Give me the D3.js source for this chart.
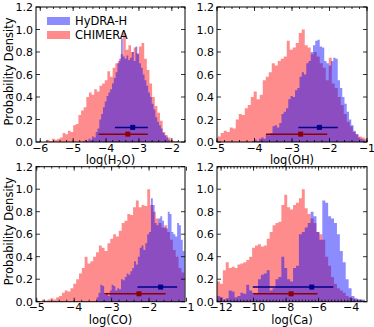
<!DOCTYPE html>
<html>
<head>
<meta charset="utf-8">
<script src="https://cdn.jsdelivr.net/npm/d3@7"></script>
<style>
  body { margin: 0; background: #fff; }
  text { font-family: "DejaVu Sans", sans-serif; fill: #000; }
</style>
</head>
<body>
<div id="chart"></div>
<script>
// series names
const seriesNames = ["HyDRA-H", "CHIMERA"];

// H2O posteriors (bin start, bin width, densities)
const h2oHydraStart = -4.70, h2oHydraWidth = 0.055;
const h2oHydra = [0.01,0.02,0.01,0.03,0.02,0.05,0.04,0.09,0.12,0.20,0.25,0.31,0.36,0.41,0.44,0.47,0.52,0.57,0.62,0.70,
  0.74,0.92,0.76,0.74,0.77,0.73,0.75,0.80,0.72,0.85,0.78,0.70,0.66,0.60,0.55,0.50,0.44,0.40,0.34,0.29,
  0.22,0.18,0.15,0.12,0.08,0.06,0.04,0.02];
const h2oChimeraStart = -5.80, h2oChimeraWidth = 0.08;
const h2oChimera = [0.02,0.01,0.03,0.02,0.03,0.04,0.08,0.07,0.10,0.09,0.15,0.16,0.24,0.28,0.31,0.40,0.44,0.42,0.47,0.45,
  0.50,0.52,0.55,0.63,0.58,0.66,0.70,0.72,0.78,0.97,0.82,0.86,0.80,0.84,0.79,0.85,0.88,0.74,0.64,0.52,
  0.40,0.32,0.26,0.19,0.09,0.06,0.04,0.02,0.01,0.01];

// OH posteriors
const ohHydraStart = -4.06, ohHydraWidth = 0.06;
const ohHydra = [0.01,0.02,0.01,0.03,0.04,0.03,0.07,0.06,0.08,0.14,0.15,0.13,0.17,0.25,0.27,0.30,0.38,0.41,0.40,0.46,
  0.48,0.58,0.62,0.60,0.70,0.72,0.80,0.86,0.90,0.91,0.85,0.84,0.72,0.70,0.68,0.72,0.75,0.74,0.55,0.48,
  0.40,0.34,0.27,0.20,0.15,0.10,0.07,0.04,0.03,0.02];
const ohChimeraStart = -4.98, ohChimeraWidth = 0.08;
const ohChimera = [0.05,0.08,0.10,0.09,0.13,0.12,0.20,0.25,0.24,0.30,0.33,0.40,0.45,0.38,0.42,0.55,0.58,0.62,0.70,0.68,
  0.72,0.74,0.76,0.90,0.82,0.84,0.88,0.97,1.00,0.86,0.84,0.78,0.80,0.76,0.70,0.66,0.55,0.75,0.52,0.48,
  0.40,0.33,0.25,0.18,0.14,0.09,0.07,0.05,0.04,0.03];

// CO posteriors
const coHydraStart = -3.40, coHydraWidth = 0.05;
const coHydra = [0.04,0.08,0.15,0.14,0.06,0.08,0.05,0.10,0.15,0.14,0.10,0.12,0.11,0.20,0.19,0.22,0.25,0.24,0.27,0.30,
  0.36,0.33,0.40,0.48,0.50,0.46,0.52,0.60,0.62,0.92,0.86,0.70,0.68,0.74,0.76,0.72,0.66,0.65,0.80,0.78,
  0.62,0.60,0.58,0.70,0.68,0.55,0.45];
const coChimeraStart = -4.86, coChimeraWidth = 0.076;
const coChimera = [0.02,0.01,0.02,0.03,0.02,0.04,0.05,0.08,0.10,0.09,0.12,0.16,0.20,0.25,0.30,0.40,0.34,0.36,0.40,0.44,
  0.50,0.48,0.45,0.52,0.56,0.60,0.58,0.63,0.70,0.72,0.78,0.77,0.84,0.90,0.84,0.86,0.85,1.00,0.86,0.80,
  0.74,0.70,0.66,0.68,0.62,0.55,0.46,0.40,0.30,0.26];

// Ca posteriors
const caHydraStart = -12.25, caHydraWidth = 0.18;
const caHydra = [0.05,0.04,0.02,0.03,0.10,0.09,0.04,0.05,0.08,0.07,0.15,0.10,0.08,0.07,0.20,0.24,0.25,0.28,0.10,0.12,
  0.20,0.22,0.40,0.30,0.20,0.18,0.30,0.32,0.60,0.62,0.66,0.70,0.80,0.76,0.62,0.55,0.90,0.88,0.76,0.74,
  0.70,0.60,0.45,0.35,0.20,0.12,0.05,0.03,0.02,0.02];
const caChimeraStart = -12.25, caChimeraWidth = 0.18;
const caChimera = [0.18,0.16,0.28,0.35,0.30,0.31,0.30,0.33,0.34,0.35,0.37,0.40,0.48,0.50,0.51,0.49,0.50,0.56,0.62,0.68,
  0.70,0.71,0.86,0.95,0.84,0.82,0.86,0.88,0.92,1.00,0.83,0.78,0.74,0.70,0.62,0.60,0.55,0.40,0.32,0.22,
  0.16,0.12,0.10,0.08,0.05,0.04,0.03,0.02,0.02,0.01];

// median and 1-sigma range, per panel (H2O, OH, CO, Ca)
const hydraMedian = [-3.19, -2.27, -1.69, -6.42];
const hydraLow    = [-3.73, -2.83, -2.31, -10.05];
const hydraHigh   = [-2.73, -1.78, -1.25, -5.09];
const chimeraMedian = [-3.34, -2.77, -2.27, -7.69];
const chimeraLow    = [-4.23, -3.69, -3.20, -10.01];
const chimeraHigh   = [-2.73, -2.06, -1.56, -6.07];
const hydraErrY = 0.13, chimeraErrY = 0.07;

// axis ticks
const yTicks = [0.0, 0.2, 0.4, 0.6, 0.8, 1.0, 1.2];
const h2oTicks = [-6, -5, -4, -3, -2];
const ohTicks = [-5, -4, -3, -2, -1];
const coTicks = [-5, -4, -3, -2, -1];
const caTicks = [-12, -10, -8, -6, -4];

const W = 374, H = 327;
const blue = "rgb(0,0,255)", red = "rgb(255,0,0)", alpha = 0.45;

const svg = d3.select("#chart").append("svg")
  .attr("width", W).attr("height", H);

const panels = [
  { mol: "H", sub: "2", tail: "O", ticks: h2oTicks, domain: [-6.13, -1.6],
    hydra: [h2oHydraStart, h2oHydraWidth, h2oHydra], chimera: [h2oChimeraStart, h2oChimeraWidth, h2oChimera],
    box: [36, 7, 185, 142], ylabel: true, legend: true },
  { mol: "OH", ticks: ohTicks, domain: [-5, -1],
    hydra: [ohHydraStart, ohHydraWidth, ohHydra], chimera: [ohChimeraStart, ohChimeraWidth, ohChimera],
    box: [217, 7, 367, 142] },
  { mol: "CO", ticks: coTicks, domain: [-5.02, -1.04],
    hydra: [coHydraStart, coHydraWidth, coHydra], chimera: [coChimeraStart, coChimeraWidth, coChimera],
    box: [36, 166.7, 185, 301.7], ylabel: true },
  { mol: "Ca", ticks: caTicks, domain: [-12.25, -3.02],
    hydra: [caHydraStart, caHydraWidth, caHydra], chimera: [caChimeraStart, caChimeraWidth, caChimera],
    box: [217, 166.7, 367, 301.7] }
];

panels.forEach((p, i) => {
  const [x0, y0, x1, y1] = p.box;
  const x = d3.scaleLinear().domain(p.domain).range([x0, x1]);
  const y = d3.scaleLinear().domain([0, 1.2]).range([y1, y0]);

  const clipId = "clip" + i;
  svg.append("clipPath").attr("id", clipId)
    .append("rect").attr("x", x0).attr("y", y0).attr("width", x1 - x0).attr("height", y1 - y0);

  const g = svg.append("g").attr("clip-path", `url(#${clipId})`);

  // histograms as filled steps: CHIMERA underneath, HyDRA-H on top
  const area = d3.area()
    .x(d => x(d[0]))
    .y0(y(0))
    .y1(d => y(d[1]))
    .curve(d3.curveStepAfter);
  [[p.chimera, red], [p.hydra, blue]].forEach(([h, col]) => {
    const [start, width, vals] = h;
    const pts = vals.map((v, j) => [start + j * width, v]);
    pts.push([start + vals.length * width, vals[vals.length - 1]]);
    g.append("path")
      .datum(pts)
      .attr("d", area)
      .attr("fill", col)
      .attr("fill-opacity", alpha);
  });

  // error bars
  const bars = [
    { m: hydraMedian[i], lo: hydraLow[i], hi: hydraHigh[i], yv: hydraErrY, col: "#00008b" },
    { m: chimeraMedian[i], lo: chimeraLow[i], hi: chimeraHigh[i], yv: chimeraErrY, col: "#8b0000" }
  ];
  bars.forEach(b => {
    g.append("line")
      .attr("x1", x(b.lo)).attr("x2", x(b.hi))
      .attr("y1", y(b.yv)).attr("y2", y(b.yv))
      .attr("stroke", b.col).attr("stroke-width", 1.5);
    g.append("rect")
      .attr("x", x(b.m) - 2.5).attr("y", y(b.yv) - 2.5)
      .attr("width", 5).attr("height", 5)
      .attr("fill", b.col);
  });

  // frame
  svg.append("rect")
    .attr("x", x0).attr("y", y0).attr("width", x1 - x0).attr("height", y1 - y0)
    .attr("fill", "none").attr("stroke", "#000").attr("stroke-width", 1);

  // inward ticks on all four sides
  const minor = d3.range(Math.ceil(p.domain[0] * 5), Math.floor(p.domain[1] * 5) + 1).map(k => k / 5);
  const xt = svg.append("g").attr("stroke", "#000").attr("stroke-width", 0.8);
  minor.forEach(v => {
    xt.append("line").attr("x1", x(v)).attr("x2", x(v)).attr("y1", y1).attr("y2", y1 - 2);
    xt.append("line").attr("x1", x(v)).attr("x2", x(v)).attr("y1", y0).attr("y2", y0 + 2);
  });
  p.ticks.forEach(v => {
    xt.append("line").attr("x1", x(v)).attr("x2", x(v)).attr("y1", y1).attr("y2", y1 - 4);
    xt.append("line").attr("x1", x(v)).attr("x2", x(v)).attr("y1", y0).attr("y2", y0 + 4);
  });
  yTicks.forEach(v => {
    xt.append("line").attr("x1", x0).attr("x2", x0 + 4).attr("y1", y(v)).attr("y2", y(v));
    xt.append("line").attr("x1", x1).attr("x2", x1 - 4).attr("y1", y(v)).attr("y2", y(v));
  });

  // tick labels
  svg.append("g").selectAll("text")
    .data(p.ticks)
    .enter().append("text")
    .attr("x", d => x(d))
    .attr("y", y1 + 9.5)
    .attr("text-anchor", "middle")
    .style("font-size", "11px")
    .text(d => d3.format(".0f")(d).replace("-", "\u2212"));

  svg.append("g").selectAll("text")
    .data(yTicks)
    .enter().append("text")
    .attr("x", x0 - 3)
    .attr("y", d => y(d) + 4)
    .attr("text-anchor", "end")
    .style("font-size", "11px")
    .text(d => d.toFixed(1));

  // x label
  const xl = svg.append("text")
    .attr("x", (x0 + x1) / 2)
    .attr("y", y1 + 22)
    .attr("text-anchor", "middle")
    .style("font-size", "11.5px");
  xl.append("tspan").text("log(" + p.mol);
  if (p.sub) {
    xl.append("tspan").attr("dy", 2.5).style("font-size", "8px").text(p.sub);
    xl.append("tspan").attr("dy", -2.5).text(p.tail + ")");
  } else {
    xl.append("tspan").text(")");
  }

  if (p.ylabel) {
    svg.append("text")
      .attr("transform", `translate(13,${(y0 + y1) / 2 - 3}) rotate(-90)`)
      .attr("text-anchor", "middle")
      .style("font-size", "11.5px")
      .text("Probability Density");
  }

  if (p.legend) {
    const lg = svg.append("g");
    [[seriesNames[0], blue], [seriesNames[1], red]].forEach(([name, col], k) => {
      lg.append("rect")
        .attr("x", x0 + 11).attr("y", y0 + 10 + k * 14)
        .attr("width", 23).attr("height", 8)
        .attr("fill", col).attr("fill-opacity", alpha);
      lg.append("text")
        .attr("x", x0 + 39).attr("y", y0 + 18 + k * 14)
        .style("font-size", "11.5px")
        .text(name);
    });
  }
});
</script>
</body>
</html>
